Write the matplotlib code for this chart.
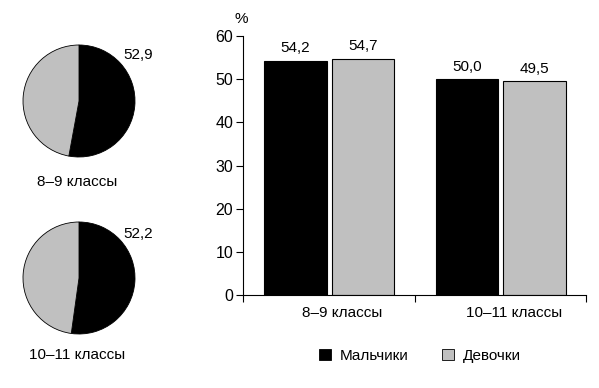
import matplotlib
matplotlib.use("Agg")
import matplotlib.pyplot as plt
from matplotlib.patches import Patch

plt.rcParams['font.family'] = ['Liberation Sans', 'DejaVu Sans']
plt.rcParams['font.size'] = 11

groups = ["8–9 классы", "10–11 классы"]
series = ["Мальчики", "Девочки"]
boys = [54.2, 50.0]
girls = [54.7, 49.5]
pie_boys = [52.9, 52.2]
pie_labels = ["52,9", "52,2"]
yticks = [0, 10, 20, 30, 40, 50, 60]

BLACK = "#000000"
GRAY = "#c0c0c0"
FS = 11

W, H = 599, 388
fig = plt.figure(figsize=(W / 100, H / 100), dpi=100)

def fax(l, t, r, b):
    return fig.add_axes([l / W, 1 - b / H, (r - l) / W, (b - t) / H])

# Pies
pie_centers = [(79, 101), (79, 278)]
cap_y = [-1.45, -1.375]
lab_y = [0.82, 0.79]
R = 56
for i, (cx, cy) in enumerate(pie_centers):
    ax = fax(cx - R, cy - R, cx + R, cy + R)
    ax.pie([pie_boys[i], 100 - pie_boys[i]], colors=[BLACK, GRAY], startangle=90,
           counterclock=False, radius=1,
           wedgeprops=dict(edgecolor="black", linewidth=0.6))
    ax.set_xlim(-1, 1)
    ax.set_ylim(-1, 1)
    ax.set_aspect('equal')
    ax.text(1.05, lab_y[i], pie_labels[i], ha="center", va="center", fontsize=FS, clip_on=False)
    ax.text(-0.03, cap_y[i], groups[i], ha="center", va="center", fontsize=FS, clip_on=False)

# Bars
ax = fax(243, 36, 586, 295)
x = [0, 1]
bw = 0.365
xb = [xi + 0.307 for xi in x]
xg = [xi + 0.70 for xi in x]
b1 = ax.bar(xb, boys, width=bw, color=BLACK, edgecolor="black", linewidth=0.8)
b2 = ax.bar(xg, girls, width=bw, color=GRAY, edgecolor="black", linewidth=0.8)
for bars, vals in ((b1, boys), (b2, girls)):
    for r, v in zip(bars, vals):
        ax.annotate(f"{v:.1f}".replace(".", ","), (r.get_x() + r.get_width() / 2, v),
                    xytext=(0, 4), textcoords="offset points", ha="center", va="bottom",
                    fontsize=FS)
ax.set_xlim(0, 2)
ax.set_ylim(0, 60)
ax.set_yticks(yticks)
ax.set_xticks([0, 1, 2])
ax.set_xticklabels([])
ax.tick_params(axis="y", direction="out", length=5, width=0.8, labelsize=11.5, pad=2)
ax.tick_params(axis="x", direction="out", length=5, width=0.8)
for s in ("top", "right"):
    ax.spines[s].set_visible(False)
for s in ("left", "bottom"):
    ax.spines[s].set_linewidth(0.8)
for i, g in enumerate(groups):
    ax.text(i + 0.58, -4.2, g, ha="center", va="center", fontsize=FS)
ax.text(-0.01, 62.3, "%", ha="center", va="bottom", fontsize=FS)

handles = [Patch(facecolor=BLACK, edgecolor="black", linewidth=0.6),
           Patch(facecolor=GRAY, edgecolor="black", linewidth=0.6)]
fig.legend(handles, series, loc="center", bbox_to_anchor=(420 / W, 1 - 356 / H),
           ncol=2, frameon=False, handlelength=0.75, handleheight=0.75,
           handletextpad=0.6, columnspacing=2.2, fontsize=FS)

fig.savefig("out.png", dpi=100)
